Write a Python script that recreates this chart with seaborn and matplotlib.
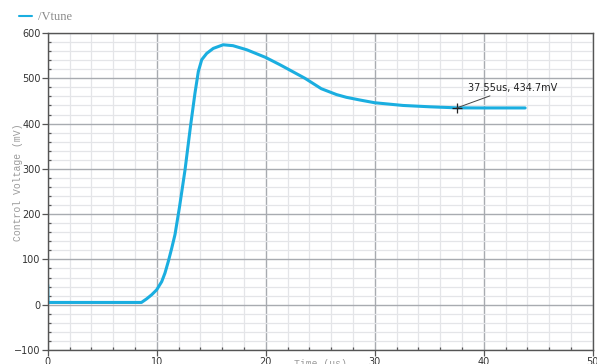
import matplotlib
matplotlib.use("Agg")
import matplotlib.pyplot as plt
from matplotlib.ticker import MultipleLocator
import seaborn as sns
import pandas as pd

# Transient response of the VCO control node
time_us = [0.0, 0.02, 8.6, 9.08, 9.54, 10.0, 10.46, 10.76, 11.07, 11.38, 11.68,
           12.1, 12.6, 13.1, 13.51, 13.82, 14.13, 14.59, 15.19, 16.1, 17.0,
           18.26, 20.0, 21.3, 22.07, 23.6, 25.1, 26.5, 27.4, 28.65, 30.0,
           32.6, 35.1, 37.55, 40.0, 43.8]
vtune_mv = [44, 5, 5, 13, 22, 33, 51, 70, 96, 125, 155,
            217, 298, 394, 467, 515, 541, 555, 566, 574, 572,
            563, 546, 530, 520, 500, 477, 464, 458, 452, 446,
            440, 437, 434.7, 434.5, 434.5]

marker_t = 37.55
marker_v = 434.7
marker_text = "37.55us, 434.7mV"

series_name = "/Vtune"
x_label = "Time (us)"
y_label = "Control Voltage (mV)"

df = pd.DataFrame({"t": time_us, "v": vtune_mv})

sns.set_theme(style="white")
plt.rcParams["font.family"] = ["DejaVu Sans"]

W, H = 597, 364
fig = plt.figure(figsize=(W / 100, H / 100), dpi=100)
ax = fig.add_axes([47.7 / W, 1 - 350 / H, 545 / W, 317 / H])

line_color = "#1aaee0"
sns.lineplot(data=df, x="t", y="v", ax=ax, color=line_color, linewidth=2.2,
             sort=False, estimator=None, label=series_name)

ax.set_xlim(0, 50)
ax.set_ylim(-100, 600)
ax.xaxis.set_major_locator(MultipleLocator(10))
ax.xaxis.set_minor_locator(MultipleLocator(2))
ax.yaxis.set_major_locator(MultipleLocator(100))
ax.yaxis.set_minor_locator(MultipleLocator(20))

ax.grid(which="major", color="#a8abb0", linewidth=1.0)
ax.grid(which="minor", color="#e4e5e8", linewidth=0.9)
ax.set_axisbelow(True)

for side, sp in ax.spines.items():
    sp.set_visible(True)
    sp.set_color("#555555")
    sp.set_linewidth(1.0)

ax.tick_params(which="major", direction="out", length=4, width=0.9,
               color="#555555", labelsize=7, labelcolor="#333333", pad=1,
               bottom=True, left=True)
ax.tick_params(which="minor", direction="in", length=2.5, width=0.9,
               color="#555555", bottom=True, left=True)

ax.set_xlabel("")
ax.set_ylabel("")

# Cursor marker with its readout
ax.plot([marker_t], [marker_v], marker="+", color="#222222", markersize=7,
        markeredgewidth=0.9, linestyle="none")
ax.annotate(marker_text, xy=(marker_t, marker_v), xytext=(8, 11),
            textcoords="offset points", fontsize=7, color="#222222",
            ha="left", va="bottom",
            arrowprops=dict(arrowstyle="-", color="#444444", lw=0.7,
                            shrinkA=0, shrinkB=0))

# Axis titles in the waveform viewer's style
fig.text(18 / W, 1 - 182 / H, y_label, rotation=90, ha="center", va="center",
         fontsize=7, color="#9a9a9a", family="Liberation Mono")
fig.text(320 / W, 1 - 359 / H, x_label, ha="center", va="top",
         fontsize=7, color="#9a9a9a", family="Liberation Mono")

leg = ax.legend(loc="center left", bbox_to_anchor=(19 / W, 1 - 17 / H),
                bbox_transform=fig.transFigure, frameon=False,
                handlelength=1.0, handletextpad=0.5, borderpad=0,
                borderaxespad=0,
                prop={"family": "Liberation Serif", "size": 9})
for txt in leg.get_texts():
    txt.set_color("#8a8a8a")
for h in leg.get_lines():
    h.set_linewidth(1.5)

fig.savefig("out.png", dpi=100)
